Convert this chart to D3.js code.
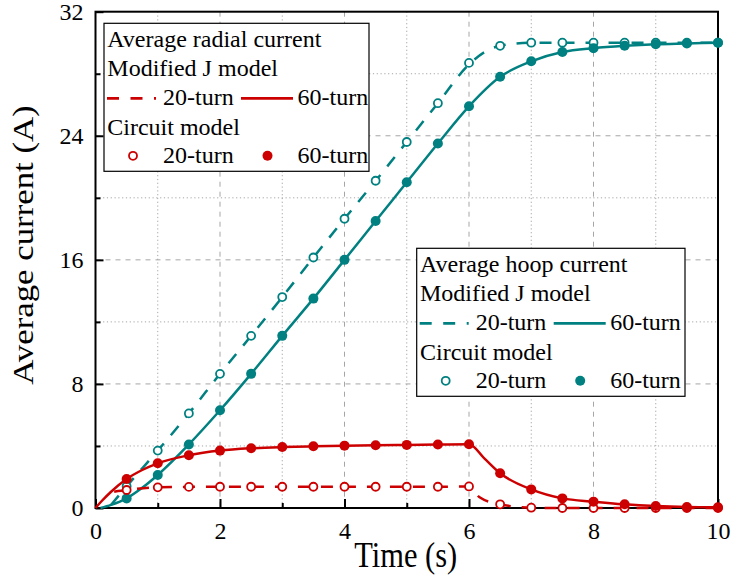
<!DOCTYPE html>
<html>
<head>
<meta charset="utf-8">
<script src="https://cdn.jsdelivr.net/npm/d3@7"></script>
<style>
  body { margin: 0; background: #fff; }
  text { font-family: "Liberation Serif", "Times New Roman", serif; fill: #000; }
</style>
</head>
<body>
<div id="chart"></div>
<script>
// circuit model points (every 0.5 s)
const circuitTime = [0.5, 1, 1.5, 2, 2.5, 3, 3.5, 4, 4.5, 5, 5.5, 6, 6.5, 7, 7.5, 8, 8.5, 9, 9.5, 10];
const radial20Circuit = [1.16, 1.33, 1.36, 1.37, 1.37, 1.37, 1.37, 1.37, 1.37, 1.37, 1.37, 1.39, 0.24, 0.02, 0, 0, 0, 0, 0, 0];
const radial60Circuit = [1.87, 2.88, 3.4, 3.7, 3.85, 3.93, 3.98, 4.02, 4.05, 4.07, 4.09, 4.11, 2.24, 1.2, 0.62, 0.41, 0.24, 0.13, 0.07, 0.05];
const hoop20Circuit = [1.4, 3.7, 6.1, 8.65, 11.1, 13.6, 16.15, 18.65, 21.1, 23.6, 26.1, 28.7, 29.8, 30, 30, 30, 30, 30, 30, 30];
const hoop60Circuit = [0.62, 2.13, 4.1, 6.3, 8.65, 11.1, 13.5, 16, 18.5, 21, 23.5, 25.9, 27.8, 28.8, 29.4, 29.65, 29.8, 29.9, 29.95, 30];

// modified J model curves
const radial20ModelTime = [0.3, 0.5, 1, 1.5, 2, 2.5, 3, 3.5, 4, 4.5, 5, 5.5, 6, 6.17, 6.5, 7, 7.5, 8, 8.5, 9, 9.5, 10];
const radial20Model = [1.05, 1.16, 1.33, 1.36, 1.37, 1.37, 1.37, 1.37, 1.37, 1.37, 1.37, 1.37, 1.39, 0.69, 0.24, 0.02, 0, 0, 0, 0, 0, 0];
const radial60ModelTime = [0, 0.1, 0.25, 0.5, 0.75, 1, 1.5, 2, 2.5, 3, 3.5, 4, 4.5, 5, 5.5, 6, 6.25, 6.5, 7, 7.5, 8, 8.5, 9, 9.5, 10];
const radial60Model = [0, 0.45, 1.05, 1.87, 2.45, 2.88, 3.4, 3.7, 3.85, 3.93, 3.98, 4.02, 4.05, 4.07, 4.09, 4.11, 3.18, 2.24, 1.2, 0.62, 0.41, 0.24, 0.13, 0.07, 0.05];
const hoop20ModelTime = [0.25, 0.5, 1, 1.5, 2, 2.5, 3, 3.5, 4, 4.5, 5, 5.5, 6, 6.25, 6.5, 7, 7.5, 8, 8.5, 9, 9.5, 10];
const hoop20Model = [0.2, 1.4, 3.7, 6.1, 8.65, 11.1, 13.6, 16.15, 18.65, 21.1, 23.6, 26.1, 28.6, 29.4, 29.8, 30, 30, 30, 30, 30, 30, 30];
const hoop60ModelTime = [0.08, 0.25, 0.5, 0.75, 1, 1.5, 2, 2.5, 3, 3.5, 4, 4.5, 5, 5.5, 6, 6.5, 7, 7.5, 8, 8.5, 9, 9.5, 10];
const hoop60Model = [0, 0.2, 0.62, 1.3, 2.13, 4.1, 6.3, 8.65, 11.1, 13.5, 16, 18.5, 21, 23.5, 25.9, 27.8, 28.8, 29.4, 29.65, 29.8, 29.9, 29.95, 30];

const xTicks = [0, 2, 4, 6, 8, 10];
const xMinorTicks = [1, 3, 5, 7, 9];
const yTicks = [0, 8, 16, 24, 32];
const yMinorTicks = [4, 12, 20, 28];

const red = "#cc0000";
const teal = "#008080";

const W = 732, H = 580;
const mLeft = 95.5, mRight = 718, mTop = 11.7, mBottom = 508;

const svg = d3.select("#chart").append("svg")
  .attr("width", W).attr("height", H);

const x = d3.scaleLinear().domain([0, 10]).range([mLeft, mRight]);
const y = d3.scaleLinear().domain([0, 32]).range([mBottom, mTop]);

// grid
const grid = svg.append("g");
grid.selectAll(".gx").data(xTicks.slice(1, -1)).join("line")
  .attr("class", "gx")
  .attr("x1", d => x(d)).attr("x2", d => x(d)).attr("y1", mTop).attr("y2", mBottom)
  .attr("stroke", "#a6a6a6").attr("stroke-width", 1).attr("stroke-dasharray", "5,5");
grid.selectAll(".gxm").data(xMinorTicks).join("line")
  .attr("class", "gxm")
  .attr("x1", d => x(d)).attr("x2", d => x(d)).attr("y1", mTop).attr("y2", mBottom)
  .attr("stroke", "#a6a6a6").attr("stroke-width", 1).attr("stroke-dasharray", "1.2,2.6");
grid.selectAll(".gy").data(yTicks.slice(1, -1)).join("line")
  .attr("class", "gy")
  .attr("y1", d => y(d)).attr("y2", d => y(d)).attr("x1", mLeft).attr("x2", mRight)
  .attr("stroke", "#a6a6a6").attr("stroke-width", 1).attr("stroke-dasharray", "5,5");
grid.selectAll(".gym").data(yMinorTicks).join("line")
  .attr("class", "gym")
  .attr("y1", d => y(d)).attr("y2", d => y(d)).attr("x1", mLeft).attr("x2", mRight)
  .attr("stroke", "#a6a6a6").attr("stroke-width", 1).attr("stroke-dasharray", "1.2,2.6");

// axes with inward ticks
const xAxis = svg.append("g").attr("transform", `translate(0,${mBottom})`)
  .call(d3.axisBottom(x).tickValues(xTicks).tickSizeInner(-9).tickSizeOuter(0));
svg.append("g").attr("transform", `translate(0,${mBottom})`)
  .call(d3.axisBottom(x).tickValues(xMinorTicks).tickSizeInner(-5).tickSizeOuter(0).tickFormat(""));
const yAxis = svg.append("g").attr("transform", `translate(${mLeft},0)`)
  .call(d3.axisLeft(y).tickValues(yTicks).tickSizeInner(-8).tickSizeOuter(0));
svg.append("g").attr("transform", `translate(${mLeft},0)`)
  .call(d3.axisLeft(y).tickValues(yMinorTicks).tickSizeInner(-5).tickSizeOuter(0).tickFormat(""));

svg.selectAll(".tick line").attr("stroke", "#000").attr("stroke-width", 2);
svg.selectAll(".domain").attr("stroke", "none");
xAxis.selectAll("text").style("font-size", "24px").attr("fill", "#000").attr("y", 14).attr("dy", "0.71em");
yAxis.selectAll("text").style("font-size", "24px").attr("fill", "#000").attr("x", -12).attr("dy", "0.33em");

// frame
svg.append("rect")
  .attr("x", mLeft).attr("y", mTop).attr("width", mRight - mLeft).attr("height", mBottom - mTop)
  .attr("fill", "none").attr("stroke", "#000").attr("stroke-width", 2);

// axis titles
svg.append("text")
  .attr("transform", `translate(${(mLeft + mRight) / 2 - 1},567) scale(1,1.18)`)
  .attr("text-anchor", "middle")
  .style("font-size", "30.5px")
  .text("Time (s)");
svg.append("text")
  .attr("transform", "translate(33,245) scale(1,1.2) rotate(-90)")
  .attr("text-anchor", "middle")
  .style("font-size", "29px")
  .text("Average current (A)");

// lines
const line = d3.line().x(d => x(d[0])).y(d => y(d[1])).curve(d3.curveMonotoneX);
const zip = (a, b) => a.map((t, i) => [t, b[i]]);

const plot = svg.append("g");
function drawModel(times, vals, color, dashed) {
  plot.append("path")
    .datum(zip(times, vals))
    .attr("d", line)
    .attr("fill", "none")
    .attr("stroke", color)
    .attr("stroke-width", 2.5)
    .attr("stroke-dasharray", dashed ? "12,11" : null);
}
function drawPoints(vals, color, open) {
  plot.append("g").selectAll("circle")
    .data(zip(circuitTime, vals))
    .join("circle")
    .attr("cx", d => x(d[0])).attr("cy", d => y(d[1]))
    .attr("r", open ? 4 : 5)
    .attr("fill", open ? "#fff" : color)
    .attr("stroke", color)
    .attr("stroke-width", open ? 1.8 : 0);
}

drawModel(hoop20ModelTime, hoop20Model, teal, true);
drawModel(hoop60ModelTime, hoop60Model, teal, false);
drawPoints(hoop20Circuit, teal, true);
drawPoints(hoop60Circuit, teal, false);
drawModel(radial20ModelTime, radial20Model, red, true);
drawModel(radial60ModelTime, radial60Model, red, false);
drawPoints(radial20Circuit, red, true);
drawPoints(radial60Circuit, red, false);

// legends
function drawLegend(lx, ly, lw, title, color) {
  const g = svg.append("g").attr("transform", `translate(${lx},${ly})`);
  g.append("rect").attr("width", lw).attr("height", 148)
    .attr("fill", "#fff").attr("stroke", "#000").attr("stroke-width", 1.2);
  const rows = [title, "Modified J model", null, "Circuit model", null];
  const base = [24, 52.5, 82, 111.5, 140];
  rows.forEach((r, i) => {
    if (r) g.append("text").attr("x", 3.3).attr("y", base[i]).style("font-size", "24px").text(r);
  });
  g.append("line").attr("x1", 3).attr("x2", 52).attr("y1", 75).attr("y2", 75)
    .attr("stroke", color).attr("stroke-width", 2.8).attr("stroke-dasharray", "12,11.5");
  g.append("line").attr("x1", 137).attr("x2", 189).attr("y1", 75).attr("y2", 75)
    .attr("stroke", color).attr("stroke-width", 2.8);
  g.append("text").attr("x", 59).attr("y", base[2]).style("font-size", "24px").text("20-turn");
  g.append("text").attr("x", 193.5).attr("y", base[2]).style("font-size", "24px").text("60-turn");
  g.append("circle").attr("cx", 29).attr("cy", 132.5).attr("r", 4)
    .attr("fill", "#fff").attr("stroke", color).attr("stroke-width", 1.8);
  g.append("circle").attr("cx", 163.5).attr("cy", 132.5).attr("r", 5).attr("fill", color);
  g.append("text").attr("x", 59).attr("y", base[4]).style("font-size", "24px").text("20-turn");
  g.append("text").attr("x", 193.5).attr("y", base[4]).style("font-size", "24px").text("60-turn");
}
drawLegend(104, 23.3, 265, "Average radial current", red);
drawLegend(416.7, 248.3, 268.3, "Average hoop current", teal);
</script>
</body>
</html>
